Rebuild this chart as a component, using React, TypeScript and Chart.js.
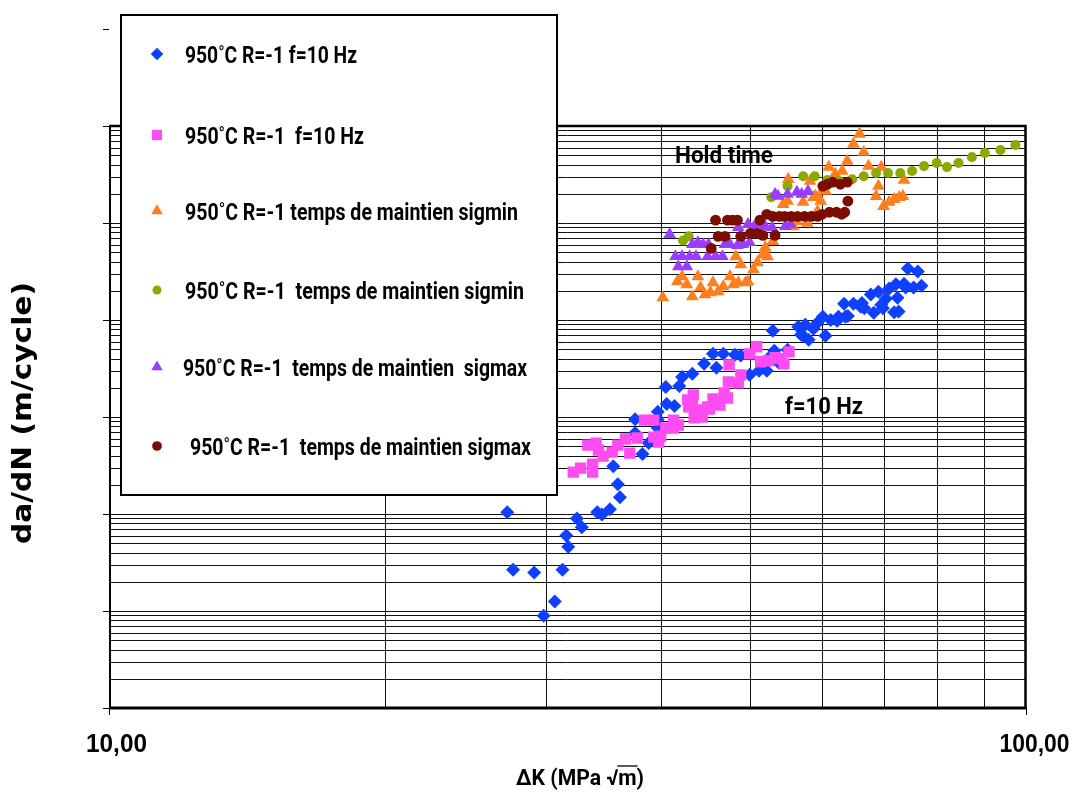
import { useEffect, useRef } from 'react';
import { Chart, registerables } from 'chart.js';

Chart.register(...registerables);

// ---------- DATA ----------
const blueDK = [27.2, 27.6, 29.1, 29.8, 30.65, 31.25, 31.55, 31.7, 32.4, 32.8, 34.1, 34.5, 35.2, 36.1, 35.9, 35.5, 38.2, 38.8, 37.5, 37.5, 39.7, 39.7, 39.7, 40.5, 40.6, 41.4, 41.9, 42.2, 43.3, 44.6, 45.6, 46.0, 46.8, 48.2, 48.9, 50.0, 51.2, 52.2, 52.9, 53.0, 53.2, 53.8, 55.0, 56.5, 56.9, 57.2, 57.5, 58.0, 58.7, 59.3, 60.1, 60.5, 61.3, 62.3, 62.5, 63.4, 63.6, 64.0, 64.9, 66.1, 66.3, 66.7, 67.8, 68.3, 69.1, 69.6, 69.9, 70.4, 71.0, 71.9, 72.2, 72.5, 72.7, 73.7, 74.0, 74.4, 75.5, 76.3, 77.0];
const blueDaDN = [1.04e-8, 2.67e-9, 2.49e-9, 8.95e-10, 1.25e-9, 2.67e-9, 6.0e-9, 4.6e-9, 9.0e-9, 7.3e-9, 1.04e-8, 9.9e-9, 1.12e-8, 1.49e-8, 2.03e-8, 3.11e-8, 4.15e-8, 5.39e-8, 6.84e-8, 9.5e-8, 1.13e-7, 7.7e-8, 9.3e-8, 2.04e-7, 1.36e-7, 1.3e-7, 2.09e-7, 2.59e-7, 2.79e-7, 3.53e-7, 4.48e-7, 3.21e-7, 4.48e-7, 4.38e-7, 4.3e-7, 2.72e-7, 2.99e-7, 2.99e-7, 4.38e-7, 7.76e-7, 4.82e-7, 3.62e-7, 4.93e-7, 8.53e-7, 7.05e-7, 6.88e-7, 8.95e-7, 6.26e-7, 8.13e-7, 9.38e-7, 1.08e-6, 6.88e-7, 1.0e-6, 9.85e-7, 1.08e-6, 1.47e-6, 1.08e-6, 1.1e-6, 1.47e-6, 1.37e-6, 1.5e-6, 1.32e-6, 1.83e-6, 1.19e-6, 1.96e-6, 1.44e-6, 1.32e-6, 1.66e-6, 2.11e-6, 1.2e-6, 2.33e-6, 1.7e-6, 1.22e-6, 2.37e-6, 2.16e-6, 3.4e-6, 2.16e-6, 3.16e-6, 2.26e-6];

const pinkDK = [32.1, 32.7, 33.7, 33.7, 33.3, 34.0, 34.2, 34.6, 35.4, 35.9, 36.6, 37.0, 37.7, 38.4, 39.3, 39.3, 39.8, 40.0, 40.5, 41.3, 41.3, 41.8, 42.8, 42.9, 43.3, 43.4, 43.6, 43.5, 44.4, 44.4, 45.0, 45.2, 45.6, 46.1, 46.4, 46.9, 47.3, 47.4, 48.6, 48.9, 47.5, 50.0, 50.9, 51.4, 52.4, 53.3, 54.0, 54.5, 55.2];
const pinkDaDN = [2.7e-8, 2.97e-8, 2.7e-8, 3.27e-8, 5.14e-8, 5.39e-8, 4.56e-8, 3.95e-8, 4.35e-8, 5.14e-8, 5.93e-8, 4.25e-8, 6.07e-8, 9.3e-8, 9.3e-8, 6.21e-8, 5.52e-8, 6.36e-8, 7.7e-8, 9.3e-8, 7.7e-8, 8.27e-8, 1.5e-7, 1.27e-7, 1.33e-7, 1.69e-7, 1.13e-7, 9.8e-8, 1.0e-7, 1.18e-7, 1.27e-7, 1.21e-7, 1.54e-7, 1.4e-7, 1.33e-7, 1.77e-7, 1.57e-7, 2.3e-7, 2.25e-7, 2.72e-7, 3.45e-7, 4.48e-7, 5.3e-7, 3.71e-7, 3.8e-7, 4.08e-7, 4.0e-7, 3.53e-7, 4.7e-7];

const orangeDK = [40.2, 41.7, 42.2, 42.7, 43.3, 43.9, 44.2, 44.7, 45.3, 45.6, 46.2, 46.8, 47.6, 48.0, 48.6, 48.9, 49.5, 49.8, 48.3, 50.5, 51.0, 51.7, 52.0, 52.3, 53.0, 54.4, 55.0, 55.1, 55.4, 56.3, 57.2, 57.8, 58.2, 58.7, 59.0, 59.3, 59.8, 60.1, 60.5, 61.0, 62.0, 63.1, 63.9, 64.9, 65.9, 66.6, 67.4, 69.6, 69.1, 68.7, 70.0, 71.0, 71.9, 72.8, 73.5, 73.7, 55.8];
const orangeDaDN = [1.7e-6, 2.49e-6, 2.8e-6, 2.32e-6, 1.74e-6, 2.8e-6, 2.16e-6, 1.83e-6, 1.92e-6, 2.43e-6, 1.96e-6, 2.21e-6, 2.8e-6, 2.32e-6, 2.43e-6, 3.73e-6, 2.43e-6, 2.49e-6, 4.52e-6, 3.31e-6, 3.92e-6, 4.74e-6, 5.6e-6, 4.52e-6, 6.46e-6, 1.56e-5, 1.68e-5, 2.83e-5, 9.7e-6, 1.04e-5, 1.64e-5, 1.0e-5, 2.7e-5, 1.84e-5, 1.89e-5, 1.32e-5, 1.68e-5, 2.2e-5, 2.13e-5, 3.77e-5, 3.19e-5, 3.43e-5, 4.35e-5, 6.52e-5, 8.27e-5, 5.39e-5, 3.86e-5, 3.77e-5, 2.4e-5, 1.89e-5, 1.49e-5, 1.64e-5, 1.76e-5, 1.84e-5, 1.89e-5, 2.77e-5, 9.2e-6];

const greenDK = [42.3, 42.9, 52.8, 55.0, 57.2, 58.9, 60.8, 62.6, 64.7, 66.6, 68.7, 70.8, 73.0, 75.2, 77.5, 80.0, 82.1, 84.5, 87.4, 90.3, 93.9, 97.5];
const greenDaDN = [6.61e-6, 7.28e-6, 1.84e-5, 2.4e-5, 3.04e-5, 3.04e-5, 2.77e-5, 2.7e-5, 2.83e-5, 3.04e-5, 3.27e-5, 3.27e-5, 3.27e-5, 3.43e-5, 3.86e-5, 4.15e-5, 3.77e-5, 4.15e-5, 4.78e-5, 5.26e-5, 5.65e-5, 6.37e-5];

const purpleDK = [40.9, 41.5, 41.8, 42.2, 42.7, 43.0, 43.7, 43.3, 43.9, 44.5, 45.0, 45.1, 45.9, 46.7, 47.0, 47.6, 48.5, 49.2, 50.0, 48.6, 49.8, 50.5, 51.0, 52.0, 52.9, 54.7, 55.4, 53.3, 53.7, 55.0, 56.3, 57.0, 57.9];
const purpleDaDN = [7.63e-6, 4.52e-6, 3.56e-6, 4.52e-6, 3.56e-6, 4.52e-6, 4.52e-6, 6.01e-6, 6.3e-6, 6.01e-6, 4.52e-6, 6.01e-6, 4.52e-6, 4.52e-6, 6.01e-6, 6.01e-6, 5.87e-6, 6.01e-6, 6.3e-6, 9.0e-6, 9.7e-6, 9.0e-6, 9.7e-6, 9.23e-6, 9.0e-6, 9.23e-6, 9.7e-6, 1.98e-5, 1.89e-5, 1.98e-5, 2.08e-5, 1.98e-5, 2.13e-5];

const darkRedDK = [45.4, 45.9, 47.3, 47.9, 48.5, 46.2, 47.0, 48.9, 50.1, 51.0, 51.7, 53.3, 51.3, 52.2, 53.0, 53.9, 54.6, 55.5, 56.4, 57.4, 58.4, 59.3, 60.0, 61.1, 62.2, 63.0, 63.5, 64.0, 60.1, 60.8, 61.6, 62.8, 63.9];
const darkRedDaDN = [5.47e-6, 1.07e-5, 1.07e-5, 1.07e-5, 1.07e-5, 7.28e-6, 7.28e-6, 7.28e-6, 7.81e-6, 7.81e-6, 7.45e-6, 7.45e-6, 1.07e-5, 1.23e-5, 1.17e-5, 1.17e-5, 1.17e-5, 1.17e-5, 1.17e-5, 1.17e-5, 1.17e-5, 1.17e-5, 1.23e-5, 1.29e-5, 1.29e-5, 1.23e-5, 1.29e-5, 1.68e-5, 2.4e-5, 2.51e-5, 2.64e-5, 2.51e-5, 2.64e-5];

const legendLabels = [
  '950˚C R=-1 f=10 Hz',
  '950˚C R=-1  f=10 Hz',
  '950˚C R=-1 temps de maintien sigmin',
  '950˚C R=-1  temps de maintien sigmin',
  '950˚C R=-1  temps de maintien  sigmax',
  '950˚C R=-1  temps de maintien sigmax',
];
const xTickValues = [10, 100];
const xTickLabels = ['10,00', '100,00'];
const xGridValues = [20, 30, 40, 50, 60, 70, 80, 90];
const yDecades = [-10, -9, -8, -7, -6, -5, -4, -3];
const xTitle = 'ΔK (MPa √m)';
const yTitle = 'da/dN (m/cycle)';
const annotations = ['Hold time', 'f=10 Hz'];

// ---------- STYLE ----------
const colors = ['#1040FF', '#FF4CF2', '#FF7F1F', '#8AAA00', '#9B3DFF', '#7B0C00'];
const shapes = ['rectRot', 'rect', 'triangle', 'circle', 'triangle', 'circle'];
const radii = [7, 8, 7.4, 5, 7.3, 5.4];

const seriesX = [blueDK, pinkDK, orangeDK, greenDK, purpleDK, darkRedDK];
const seriesY = [blueDaDN, pinkDaDN, orangeDaDN, greenDaDN, purpleDaDN, darkRedDaDN];

function fitText(ctx: CanvasRenderingContext2D, text: string, x: number, y: number, w: number, font: string) {
  ctx.save();
  ctx.font = font;
  ctx.textAlign = 'left';
  ctx.textBaseline = 'alphabetic';
  const m = ctx.measureText(text).width;
  const s = w / m;
  ctx.translate(x, y);
  ctx.scale(s, 1);
  ctx.fillText(text, 0, 0);
  ctx.restore();
  return s;
}

function drawMarker(ctx: CanvasRenderingContext2D, shape: string, x: number, y: number, r: number, color: string) {
  ctx.save();
  ctx.fillStyle = color;
  ctx.beginPath();
  if (shape === 'rectRot') {
    ctx.moveTo(x, y - r); ctx.lineTo(x + r, y); ctx.lineTo(x, y + r); ctx.lineTo(x - r, y); ctx.closePath();
  } else if (shape === 'rect') {
    const h = r * Math.SQRT1_2;
    ctx.rect(x - h, y - h, 2 * h, 2 * h);
  } else if (shape === 'triangle') {
    for (let i = 0; i < 3; i++) {
      const a = i * (2 * Math.PI / 3);
      const px = x + Math.sin(a) * r, py = y - Math.cos(a) * r;
      if (i === 0) ctx.moveTo(px, py); else ctx.lineTo(px, py);
    }
    ctx.closePath();
  } else {
    ctx.arc(x, y, r, 0, Math.PI * 2);
  }
  ctx.fill();
  ctx.restore();
}

const framePlugin = {
  id: 'frame',
  beforeDatasetsDraw(chart: any) {
    const { ctx } = chart;
    const xs = chart.scales.x, ys = chart.scales.y;
    const left = xs.getPixelForValue(10), right = xs.getPixelForValue(100);
    const top = ys.getPixelForValue(1e-4), bottom = ys.getPixelForValue(1e-10);
    ctx.save();
    ctx.strokeStyle = '#111';
    ctx.lineWidth = 1;
    for (let e = -10; e < -4; e++) {
      for (let m = 1; m < 10; m++) {
        const py = Math.round(ys.getPixelForValue(m * Math.pow(10, e))) + 0.5;
        ctx.beginPath(); ctx.moveTo(left, py); ctx.lineTo(right, py); ctx.stroke();
      }
    }
    for (const v of xGridValues) {
      const px = Math.round(xs.getPixelForValue(v)) + 0.5;
      ctx.beginPath(); ctx.moveTo(px, top); ctx.lineTo(px, bottom); ctx.stroke();
    }
    ctx.strokeStyle = '#000';
    for (const e of yDecades) {
      const py = Math.round(ys.getPixelForValue(Math.pow(10, e))) + 0.5;
      ctx.beginPath(); ctx.moveTo(left - 6, py); ctx.lineTo(left, py); ctx.stroke();
    }
    for (const v of xTickValues) {
      const px = Math.round(xs.getPixelForValue(v)) + 0.5;
      ctx.beginPath(); ctx.moveTo(px, bottom); ctx.lineTo(px, bottom + 7); ctx.stroke();
    }
    ctx.lineWidth = 2.5;
    ctx.beginPath(); ctx.moveTo(left, top); ctx.lineTo(right, top); ctx.lineTo(right, bottom); ctx.stroke();
    ctx.lineWidth = 2;
    ctx.beginPath(); ctx.moveTo(left + 1, top); ctx.lineTo(left + 1, bottom); ctx.stroke();
    ctx.lineWidth = 3;
    ctx.beginPath(); ctx.moveTo(left, bottom); ctx.lineTo(right + 1, bottom); ctx.stroke();
    ctx.restore();
  },
  afterDatasetsDraw(chart: any) {
    const { ctx } = chart;
    const xs = chart.scales.x;
    ctx.save();
    // legend box
    ctx.fillStyle = '#fff';
    ctx.fillRect(120, 14, 438, 482);
    ctx.strokeStyle = '#000';
    ctx.lineWidth = 2;
    ctx.strokeRect(121, 15, 436, 480);
    const rowY = [54, 135, 211, 290, 367, 446];
    const textX = [185, 185, 185, 185, 183, 190];
    const textW = [172, 179, 333, 339, 344, 341];
    for (let i = 0; i < legendLabels.length; i++) {
      drawMarker(ctx, shapes[i], 157, rowY[i], radii[i] * 0.9, colors[i]);
      ctx.fillStyle = '#000';
      fitText(ctx, legendLabels[i], textX[i], rowY[i] + 9, textW[i], 'bold 24px Roboto');
    }
    // annotations
    ctx.fillStyle = '#000';
    fitText(ctx, annotations[0], 675, 163, 98, 'bold 24px Roboto');
    fitText(ctx, annotations[1], 785, 414, 78, 'bold 24px Roboto');
    // x tick labels
    const lx0 = xs.getPixelForValue(xTickValues[0]);
    const lx1 = xs.getPixelForValue(xTickValues[1]);
    fitText(ctx, xTickLabels[0], lx0 - 23, 752, 61, 'bold 26px "Liberation Sans"');
    fitText(ctx, xTickLabels[1], lx1 - 26, 752, 70, 'bold 26px "Liberation Sans"');
    // x title with radical overline
    const font = 'bold 22px Roboto';
    const s = fitText(ctx, xTitle, 516, 785, 128, font);
    ctx.font = font;
    const pre = ctx.measureText('ΔK (MPa √').width * s;
    const mw = ctx.measureText('m').width * s;
    ctx.strokeStyle = '#000';
    ctx.lineWidth = 1.3;
    ctx.beginPath(); ctx.moveTo(516 + pre - 1, 766); ctx.lineTo(516 + pre + mw + 1, 766); ctx.stroke();
    // y title
    ctx.save();
    ctx.translate(31, 413);
    ctx.rotate(-Math.PI / 2);
    fitText(ctx, yTitle, -131, 0, 262, 'bold 27px "DejaVu Sans"');
    ctx.restore();
    ctx.restore();
  },
};

export default function App() {
  const ref = useRef<HTMLCanvasElement>(null);
  useEffect(() => {
    const datasets = seriesX.map((xsArr, i) => ({
      label: legendLabels[i],
      data: xsArr.map((v, j) => ({ x: v, y: seriesY[i][j] })),
      pointStyle: shapes[i] as any,
      pointRadius: radii[i],
      pointHoverRadius: radii[i],
      backgroundColor: colors[i],
      borderColor: colors[i],
      borderWidth: 0,
      showLine: false,
      order: 5 - i,
    }));
    const chart = new Chart(ref.current as HTMLCanvasElement, {
      type: 'scatter',
      data: { datasets },
      options: {
        responsive: false,
        animation: false,
        devicePixelRatio: 1,
        events: [],
        layout: { padding: { left: 109, right: 49.5, top: 29, bottom: 84 } },
        plugins: { legend: { display: false }, tooltip: { enabled: false } },
        scales: {
          x: { type: 'logarithmic', min: 10, max: 100, display: false },
          y: { type: 'logarithmic', min: 1e-10, max: 1e-3, display: false },
        },
      },
      plugins: [framePlugin],
    } as any);
    return () => chart.destroy();
  }, []);
  return (
    <div style={{ position: 'absolute', left: 0, top: 0, width: 1075, height: 792, background: '#fff' }}>
      <canvas ref={ref} width={1075} height={792} style={{ width: 1075, height: 792, display: 'block' }} />
    </div>
  );
}
